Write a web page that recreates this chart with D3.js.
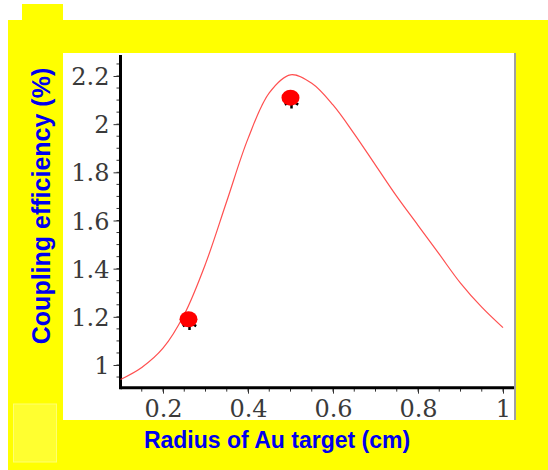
<!DOCTYPE html>
<html>
<head>
<meta charset="utf-8">
<script src="https://cdn.jsdelivr.net/npm/d3@7"></script>
<style>
  body { margin: 0; background: #fff; }
  svg { display: block; }
</style>
</head>
<body>
<div id="chart"></div>
<script>
// curve
const curveX = [0.10, 0.15, 0.20, 0.25, 0.30, 0.35, 0.40, 0.45, 0.50, 0.55, 0.60, 0.65, 0.70, 0.75, 0.80, 0.85, 0.90, 0.95, 1.00];
const curveY = [0.94, 0.99, 1.07, 1.21, 1.42, 1.68, 1.94, 2.13, 2.205, 2.17, 2.08, 1.96, 1.83, 1.70, 1.58, 1.46, 1.34, 1.24, 1.155];

// measured points
const pointX = [0.26, 0.50];
const pointY = [1.19, 2.11];

const xTicks = [0.2, 0.4, 0.6, 0.8, 1];
const yTicks = [1, 1.2, 1.4, 1.6, 1.8, 2, 2.2];

const xLabel = "Radius of Au target (cm)";
const yLabel = "Coupling efficiency (%)";

const width = 548, height = 470;

const svg = d3.select("#chart").append("svg")
    .attr("width", width)
    .attr("height", height);

// yellow frame
svg.append("rect").attr("x", 22).attr("y", 4).attr("width", 41).attr("height", 20).attr("fill", "#ffff00");
svg.append("rect").attr("x", 8).attr("y", 20).attr("width", 540).attr("height", 450).attr("fill", "#ffff00");
svg.append("rect").attr("x", 13.5).attr("y", 404).attr("width", 43).attr("height", 58)
    .attr("fill", "#ffff30").attr("stroke", "#ffff70").attr("stroke-width", 1);

// white plot panel
svg.append("rect").attr("x", 63).attr("y", 53).attr("width", 451).attr("height", 367).attr("fill", "#fff");
svg.append("line").attr("x1", 515).attr("x2", 515).attr("y1", 53).attr("y2", 420)
    .attr("stroke", "#a0a0a0").attr("stroke-width", 2);

const x = d3.scaleLinear().domain([0.1, 1]).range([120.5, 503]);
const y = d3.scaleLinear().domain([1, 2.2]).range([365, 76]);

const xMin = 0.1, xMax = 1.026;
const yMin = 0.906, yMax = 2.287;

const g = svg.append("g");

// minor ticks
const xMinor = d3.range(0.15, 1.001, 0.05);
const yMinor = d3.range(0.95, 2.26, 0.05);

g.append("g").selectAll("line").data(xMinor).join("line")
    .attr("x1", d => x(d)).attr("x2", d => x(d))
    .attr("y1", y(yMin)).attr("y2", y(yMin) + 4)
    .attr("stroke", "#333").attr("stroke-width", 1);
g.append("g").selectAll("line").data(yMinor).join("line")
    .attr("x1", x(xMin) - 4).attr("x2", x(xMin))
    .attr("y1", d => y(d)).attr("y2", d => y(d))
    .attr("stroke", "#333").attr("stroke-width", 1);

// axes
const xAxis = d3.axisBottom(x).tickValues(xTicks).tickSize(6).tickSizeOuter(0)
    .tickFormat(d => d3.format("")(d));
const yAxis = d3.axisLeft(y).tickValues(yTicks).tickSize(7).tickSizeOuter(0)
    .tickFormat(d => d3.format("")(d));

const gx = g.append("g").attr("transform", `translate(0,${y(yMin)})`).call(xAxis);
const gy = g.append("g").attr("transform", `translate(${x(xMin)},0)`).call(yAxis);

[gx, gy].forEach(a => {
  a.select(".domain").remove();
  a.selectAll(".tick line").attr("stroke", "#333").attr("stroke-width", 1);
  a.selectAll(".tick text")
    .attr("font-family", "DejaVu Serif")
    .attr("font-size", 24)
    .attr("fill", "#3a3a3a");
});
gx.selectAll(".tick text").attr("y", 12).attr("dy", "0.71em");
gy.selectAll(".tick text").attr("x", -11).attr("dy", "0.36em");

g.append("line")
    .attr("x1", x(xMin)).attr("x2", x(xMax))
    .attr("y1", y(yMin)).attr("y2", y(yMin))
    .attr("stroke", "#000").attr("stroke-width", 3);
g.append("line")
    .attr("x1", x(xMin)).attr("x2", x(xMin))
    .attr("y1", y(yMin) + 1.5).attr("y2", y(yMax))
    .attr("stroke", "#000").attr("stroke-width", 3);

// model curve
const line = d3.line()
    .x(d => x(d[0]))
    .y(d => y(d[1]))
    .curve(d3.curveCatmullRom);

g.append("path")
    .datum(d3.zip(curveX, curveY))
    .attr("d", line)
    .attr("fill", "none")
    .attr("stroke", "#ff3030")
    .attr("stroke-opacity", 0.85)
    .attr("stroke-width", 1.2);

// measured points: asterisk behind a red dot
const pts = d3.zip(pointX, pointY);
g.append("g").selectAll("path").data(pts).join("path")
    .attr("transform", d => `translate(${x(d[0]) + 1},${y(d[1]) + 3})`)
    .attr("d", d3.symbol(d3.symbolAsterisk, 170))
    .attr("fill", "none")
    .attr("stroke", "#000")
    .attr("stroke-width", 2.5);
g.append("g").selectAll("ellipse").data(pts).join("ellipse")
    .attr("cx", d => x(d[0]))
    .attr("cy", d => y(d[1]))
    .attr("rx", 9).attr("ry", 8)
    .attr("fill", "#ff0000");

// axis titles
svg.append("text")
    .attr("x", 277).attr("y", 448)
    .attr("text-anchor", "middle")
    .attr("font-family", "Liberation Sans, Arial, sans-serif")
    .attr("font-weight", "bold")
    .attr("font-size", 23)
    .attr("fill", "#0000ee")
    .text(xLabel);

svg.append("text")
    .attr("transform", "translate(50,206) rotate(-90)")
    .attr("text-anchor", "middle")
    .attr("font-family", "Liberation Sans, Arial, sans-serif")
    .attr("font-weight", "bold")
    .attr("font-size", 25)
    .attr("fill", "#0000ee")
    .text(yLabel);
</script>
</body>
</html>
